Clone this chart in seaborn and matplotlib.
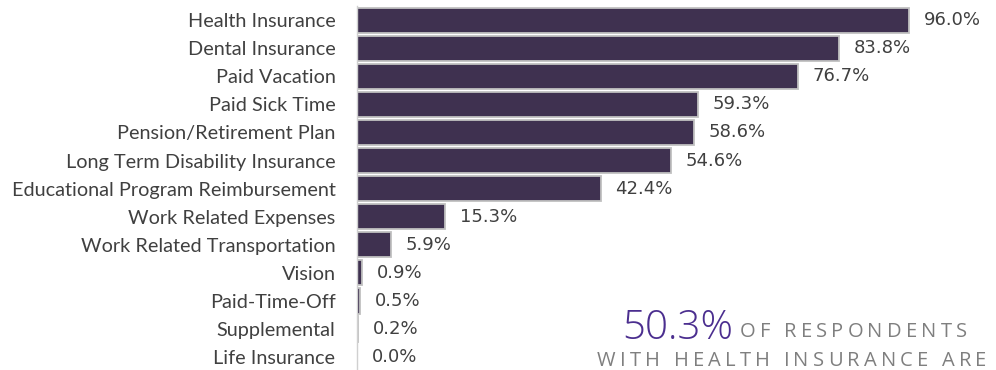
import matplotlib
matplotlib.use("Agg")
import matplotlib.pyplot as plt
import seaborn as sns
import pandas as pd

benefits = [
    "Health Insurance", "Dental Insurance", "Paid Vacation", "Paid Sick Time",
    "Pension/Retirement Plan", "Long Term Disability Insurance",
    "Educational Program Reimbursement", "Work Related Expenses",
    "Work Related Transportation", "Vision", "Paid-Time-Off",
    "Supplemental", "Life Insurance",
]
shares = [96.0, 83.8, 76.7, 59.3, 58.6, 54.6, 42.4, 15.3, 5.9, 0.9, 0.5, 0.2, 0.0]

headline_value = "50.3%"
headline_line1 = "OF RESPONDENTS"
headline_line2 = "WITH HEALTH INSURANCE ARE"

df = pd.DataFrame({"benefit": benefits, "share": shares})

sns.set_style("white")
plt.rcParams["font.family"] = ["Open Sans", "DejaVu Sans"]

fig = plt.figure(figsize=(9.96, 3.70), dpi=100)
ax = fig.add_axes([0.3584, -0.003, 0.5773, 0.9865])

sns.barplot(data=df, x="share", y="benefit", orient="h", color="#3f3150",
            edgecolor="#c0c0c0", linewidth=1.3, width=0.9, saturation=1,
            ax=ax)

ax.set_xlim(0, 100)
ax.set_ylim(12.5, -0.5)
ax.set_xlabel("")
ax.set_ylabel("")
ax.set_xticks([])
for s in ["top", "right", "bottom"]:
    ax.spines[s].set_visible(False)
ax.spines["left"].set_color("#d0d0d0")
ax.spines["left"].set_linewidth(1.0)

ax.tick_params(axis="y", length=0, pad=15.5)
for lab in ax.get_yticklabels():
    lab.set_fontfamily(["Lato", "DejaVu Sans"])
    lab.set_fontsize(14.3)
    lab.set_color("#404040")

for i, v in enumerate(shares):
    ax.annotate(f"{v:.1f}%", xy=(v, i), xytext=(10.5, 0), textcoords="offset points",
                ha="left", va="center", fontsize=13, color="#404040",
                family="DejaVu Sans")


def tracked_text(fig, x, y, text, spacing, **kw):
    """Draw text letter by letter with extra tracking, starting at pixel x."""
    renderer = fig.canvas.get_renderer()
    cur = x
    for ch in text:
        t = fig.text(cur / fig.bbox.width, y / fig.bbox.height, ch, ha="left",
                     va="baseline", **kw)
        cur += t.get_window_extent(renderer).width + spacing
    return cur


# Headline callout in the lower right
fig.text(622 / 996, 1 - 339 / 370, headline_value, fontsize=29, color="#4b2e8f",
         fontweight="light", ha="left", va="baseline")
tracked_text(fig, 740, 370 - 337, headline_line1, 4.2, fontsize=14.5, color="#7f7f7f")
tracked_text(fig, 597, 370 - 366, headline_line2, 4.2, fontsize=14.5, color="#7f7f7f")

fig.savefig("out.png", dpi=100)
